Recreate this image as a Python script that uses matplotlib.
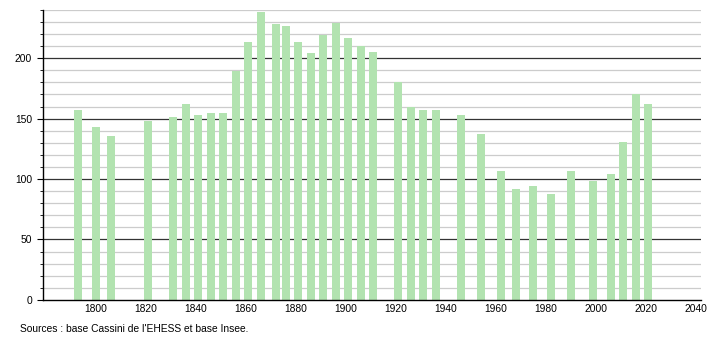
import numpy as np
import matplotlib
matplotlib.use('Agg')
import matplotlib.pyplot as plt
from matplotlib.ticker import MultipleLocator

plt.rcParams['font.family'] = ['Liberation Sans', 'DejaVu Sans']

# census years and population
years = [1793, 1800, 1806, 1821, 1831, 1836, 1841, 1846, 1851, 1856,
         1861, 1866, 1872, 1876, 1881, 1886, 1891, 1896, 1901, 1906,
         1911, 1921, 1926, 1931, 1936, 1946, 1954, 1962, 1968, 1975,
         1982, 1990, 1999, 2006, 2011, 2016, 2021]
population = [157, 143, 136, 148, 151, 162, 153, 155, 155, 189,
              213, 238, 228, 227, 213, 204, 219, 229, 217, 210,
              205, 180, 160, 157, 157, 153, 137, 107, 92, 94,
              88, 107, 98, 104, 131, 170, 162]

source_text = "Sources : base Cassini de l'EHESS et base Insee."

fig = plt.figure(figsize=(7.1, 3.4), dpi=100)
ax = fig.add_axes([0.061, 0.118, 0.926, 0.853])

# grid: light every 10, dark every 50
for v in range(10, 241, 10):
    if v % 50 == 0:
        ax.axhline(v, color='#333333', lw=0.9, zorder=1)
    else:
        ax.axhline(v, color='#cccccc', lw=0.9, zorder=1)

ax.bar(years, population, width=3.2, color='#b2e3b0', zorder=2)

ax.set_xlim(1779, 2042)
ax.set_ylim(0, 240)
ax.set_xticks(np.arange(1800, 2041, 20))
ax.yaxis.set_major_locator(MultipleLocator(50))
ax.yaxis.set_minor_locator(MultipleLocator(10))

for s in ['top', 'right']:
    ax.spines[s].set_visible(False)
ax.spines['left'].set_linewidth(1.0)
ax.spines['bottom'].set_linewidth(1.0)

ax.tick_params(axis='x', length=0, labelsize=7.4, pad=3)
ax.tick_params(axis='y', which='major', length=4, labelsize=7.4, pad=4)
ax.tick_params(axis='y', which='minor', length=2.5)

fig.text(0.028, 0.032, source_text, fontsize=7.4, ha='left', va='center')

plt.savefig('out.png', dpi=100)
